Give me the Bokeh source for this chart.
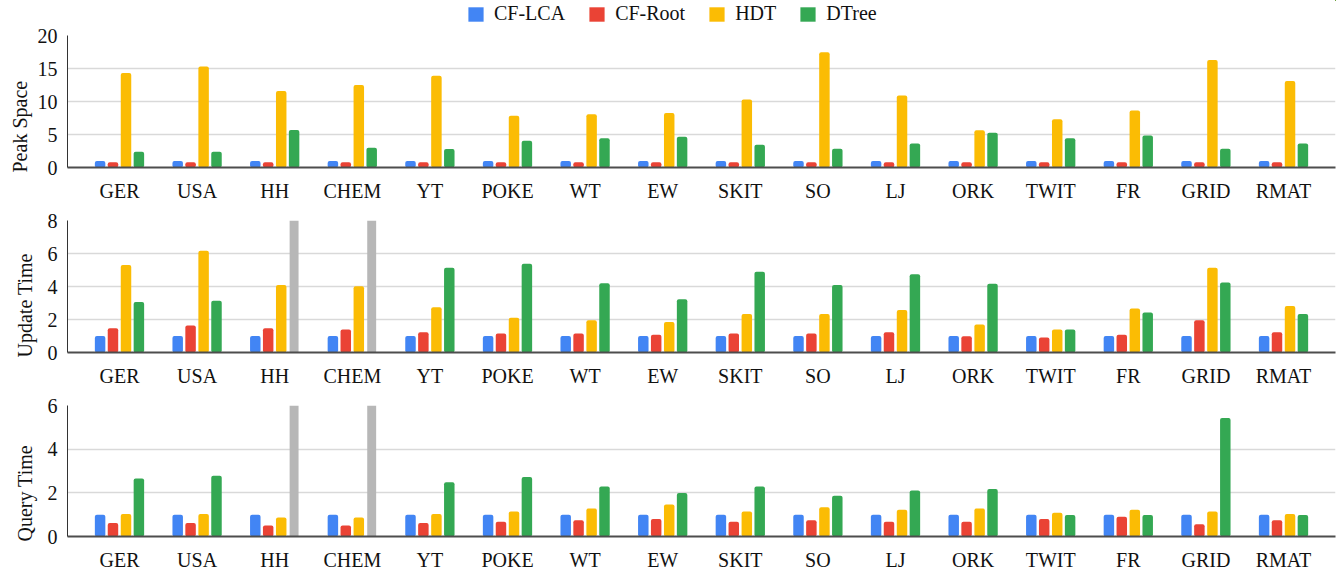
from bokeh.plotting import figure
from bokeh.models import ColumnDataSource, Range1d, FixedTicker, Legend, LegendItem, Title
from bokeh.models.glyphs import VBar
from bokeh.layouts import column
from bokeh.transform import dodge
from bokeh.embed import file_html
from bokeh.resources import INLINE

# ---------------- data ----------------
categories = ["GER", "USA", "HH", "CHEM", "YT", "POKE", "WT", "EW",
              "SKIT", "SO", "LJ", "ORK", "TWIT", "FR", "GRID", "RMAT"]
series_names = ["CF-LCA", "CF-Root", "HDT", "DTree"]

# Peak Space
cf_lca_space = [1.0, 1.0, 1.0, 1.0, 1.0, 1.0, 1.0, 1.0, 1.0, 1.0, 1.0, 1.0, 1.0, 1.0, 1.0, 1.0]
cf_root_space = [0.8, 0.8, 0.8, 0.8, 0.8, 0.8, 0.8, 0.8, 0.8, 0.8, 0.8, 0.8, 0.8, 0.8, 0.8, 0.8]
hdt_space = [14.3, 15.3, 11.6, 12.5, 13.9, 7.85, 8.05, 8.25, 10.3, 17.45, 10.9, 5.65, 7.3, 8.65, 16.3, 13.1]
dtree_space = [2.4, 2.4, 5.7, 3.0, 2.8, 4.05, 4.45, 4.65, 3.45, 2.85, 3.65, 5.25, 4.45, 4.85, 2.85, 3.65]

# Update Time (None = did not finish / off the chart)
cf_lca_update = [1.0, 1.0, 1.0, 1.0, 1.0, 1.0, 1.0, 1.0, 1.0, 1.0, 1.0, 1.0, 1.0, 1.0, 1.0, 1.0]
cf_root_update = [1.47, 1.63, 1.47, 1.39, 1.23, 1.15, 1.15, 1.07, 1.15, 1.15, 1.23, 0.99, 0.91, 1.07, 1.96, 1.23]
hdt_update = [5.3, 6.17, 4.09, 4.01, 2.74, 2.1, 1.96, 1.85, 2.34, 2.34, 2.58, 1.69, 1.39, 2.66, 5.14, 2.82]
dtree_update = [3.06, 3.14, None, None, 5.14, 5.38, 4.19, 3.22, 4.9, 4.09, 4.74, 4.17, 1.39, 2.42, 4.25, 2.34]

# Query Time
cf_lca_query = [1.0, 1.0, 1.0, 1.0, 1.0, 1.0, 1.0, 1.0, 1.0, 1.0, 1.0, 1.0, 1.0, 1.0, 1.0, 1.0]
cf_root_query = [0.62, 0.62, 0.5, 0.5, 0.62, 0.68, 0.74, 0.8, 0.68, 0.74, 0.68, 0.68, 0.8, 0.91, 0.56, 0.74]
hdt_query = [1.03, 1.03, 0.87, 0.87, 1.03, 1.15, 1.28, 1.46, 1.15, 1.34, 1.22, 1.28, 1.09, 1.22, 1.15, 1.03]
dtree_query = [2.66, 2.78, None, None, 2.48, 2.72, 2.29, 1.99, 2.29, 1.87, 2.11, 2.17, 0.98, 0.98, 5.43, 0.98]

space_ticks = [0, 5, 10, 15, 20]
update_ticks = [0, 2, 4, 6, 8]
query_ticks = [0, 2, 4, 6]

# ---------------- style ----------------
FONT = "Liberation Serif"
COLORS = ["#4285F4", "#EA4335", "#FBBC04", "#34A853"]
MISSING = "#B7B7B7"
TEXT = "#111111"
OFFSETS = [-0.25, -0.084, 0.084, 0.25]
BAR_W = 0.135
HAS_RADIUS = "border_radius" in VBar.properties()
W = 1343
LEFT = 67


def make_panel(series, yticks, ylabel, height, top, bottom, title_standoff):
    ymax = yticks[-1]
    p = figure(width=W, height=height,
               x_range=Range1d(-0.67, len(categories) - 1 + 0.67),
               y_range=Range1d(0, ymax),
               output_backend="svg", toolbar_location=None,
               min_border_left=LEFT, min_border_right=8,
               min_border_top=top, min_border_bottom=bottom)
    p.outline_line_color = None

    data = {"x": list(range(len(categories)))}
    for name, vals in zip(series_names, series):
        data[name] = [float("nan") if v is None else v for v in vals]
    src = ColumnDataSource(data)

    for name, off, col in zip(series_names, OFFSETS, COLORS):
        kw = {}
        if HAS_RADIUS:
            kw["border_radius"] = 2
        p.vbar(x=dodge("x", off), top=name, width=BAR_W, source=src,
               fill_color=col, line_color=None, **kw)

    # entries with no result: grey bar running off the top of the axis
    miss_x = [i for i, v in enumerate(series[3]) if v is None]
    if miss_x:
        msrc = ColumnDataSource({"x": miss_x, "top": [ymax] * len(miss_x)})
        p.vbar(x=dodge("x", OFFSETS[3]), top="top", width=0.115, source=msrc,
               fill_color=MISSING, line_color=None)

    p.xaxis.ticker = FixedTicker(ticks=list(range(len(categories))))
    p.xaxis.major_label_overrides = {i: c for i, c in enumerate(categories)}
    p.xaxis.major_tick_out = 0
    p.xaxis.major_tick_in = 0
    p.xaxis.minor_tick_out = 0
    p.xaxis.minor_tick_in = 0
    p.xaxis.axis_line_color = "#4d4d4d"
    p.xaxis.axis_line_width = 2
    p.xaxis.major_label_standoff = 12
    p.xaxis.major_label_text_font = FONT
    p.xaxis.major_label_text_font_size = "20px"
    p.xaxis.major_label_text_color = TEXT

    p.yaxis.ticker = FixedTicker(ticks=yticks)
    p.yaxis.major_tick_out = 0
    p.yaxis.major_tick_in = 0
    p.yaxis.minor_tick_out = 0
    p.yaxis.minor_tick_in = 0
    p.yaxis.axis_line_color = "#333333"
    p.yaxis.axis_line_width = 1
    p.yaxis.major_label_standoff = 10
    p.yaxis.major_label_text_font = FONT
    p.yaxis.major_label_text_font_size = "20px"
    p.yaxis.major_label_text_color = TEXT

    # axis title, placed at the bottom of the left side like the original
    t = Title(text=ylabel, align="left", text_font=FONT, text_font_size="20px",
              text_font_style="normal", text_color=TEXT, standoff=title_standoff,
              offset=-5)
    p.add_layout(t, "left")

    p.xgrid.visible = False
    p.ygrid.ticker = FixedTicker(ticks=yticks)
    p.ygrid.grid_line_color = "#d9d9d9"
    p.ygrid.grid_line_width = 1.5
    return p


# legend strip on top: its own small canvas; swatch renderers use the series
# data but lie far outside this strip's ranges, so only the legend shows.
lg = figure(width=W, height=26, x_range=Range1d(-100, -99), y_range=Range1d(-100, -99),
            output_backend="svg", toolbar_location=None, min_border=0,
            x_axis_location=None, y_axis_location=None)
lg.grid.visible = False
lg.outline_line_color = None
items = []
for name, vals, col in zip(series_names,
                           [cf_lca_space, cf_root_space, hdt_space, dtree_space], COLORS):
    r = lg.vbar(x=list(range(len(vals))), top=vals, width=0.1, fill_color=col, line_color=None)
    items.append(LegendItem(label=name, renderers=[r]))
leg = Legend(items=items, orientation="horizontal", location=(399, 1),
             label_text_font=FONT, label_text_font_size="20px",
             label_text_color=TEXT, glyph_width=19, glyph_height=18,
             label_standoff=9, spacing=22, padding=0, margin=0,
             border_line_color=None, background_fill_alpha=0)
lg.add_layout(leg)

p1 = make_panel([cf_lca_space, cf_root_space, hdt_space, dtree_space], space_ticks,
                "Peak Space", 181, 9, 40, 8)
p2 = make_panel([cf_lca_update, cf_root_update, hdt_update, dtree_update], update_ticks,
                "Update Time", 185, 13, 40, 18)
p3 = make_panel([cf_lca_query, cf_root_query, hdt_query, dtree_query], query_ticks,
                "Query Time", 181, 13, 36, 18)

layout = column(lg, p1, p2, p3, spacing=0)
open("out.html", "w").write(file_html(layout, INLINE))
